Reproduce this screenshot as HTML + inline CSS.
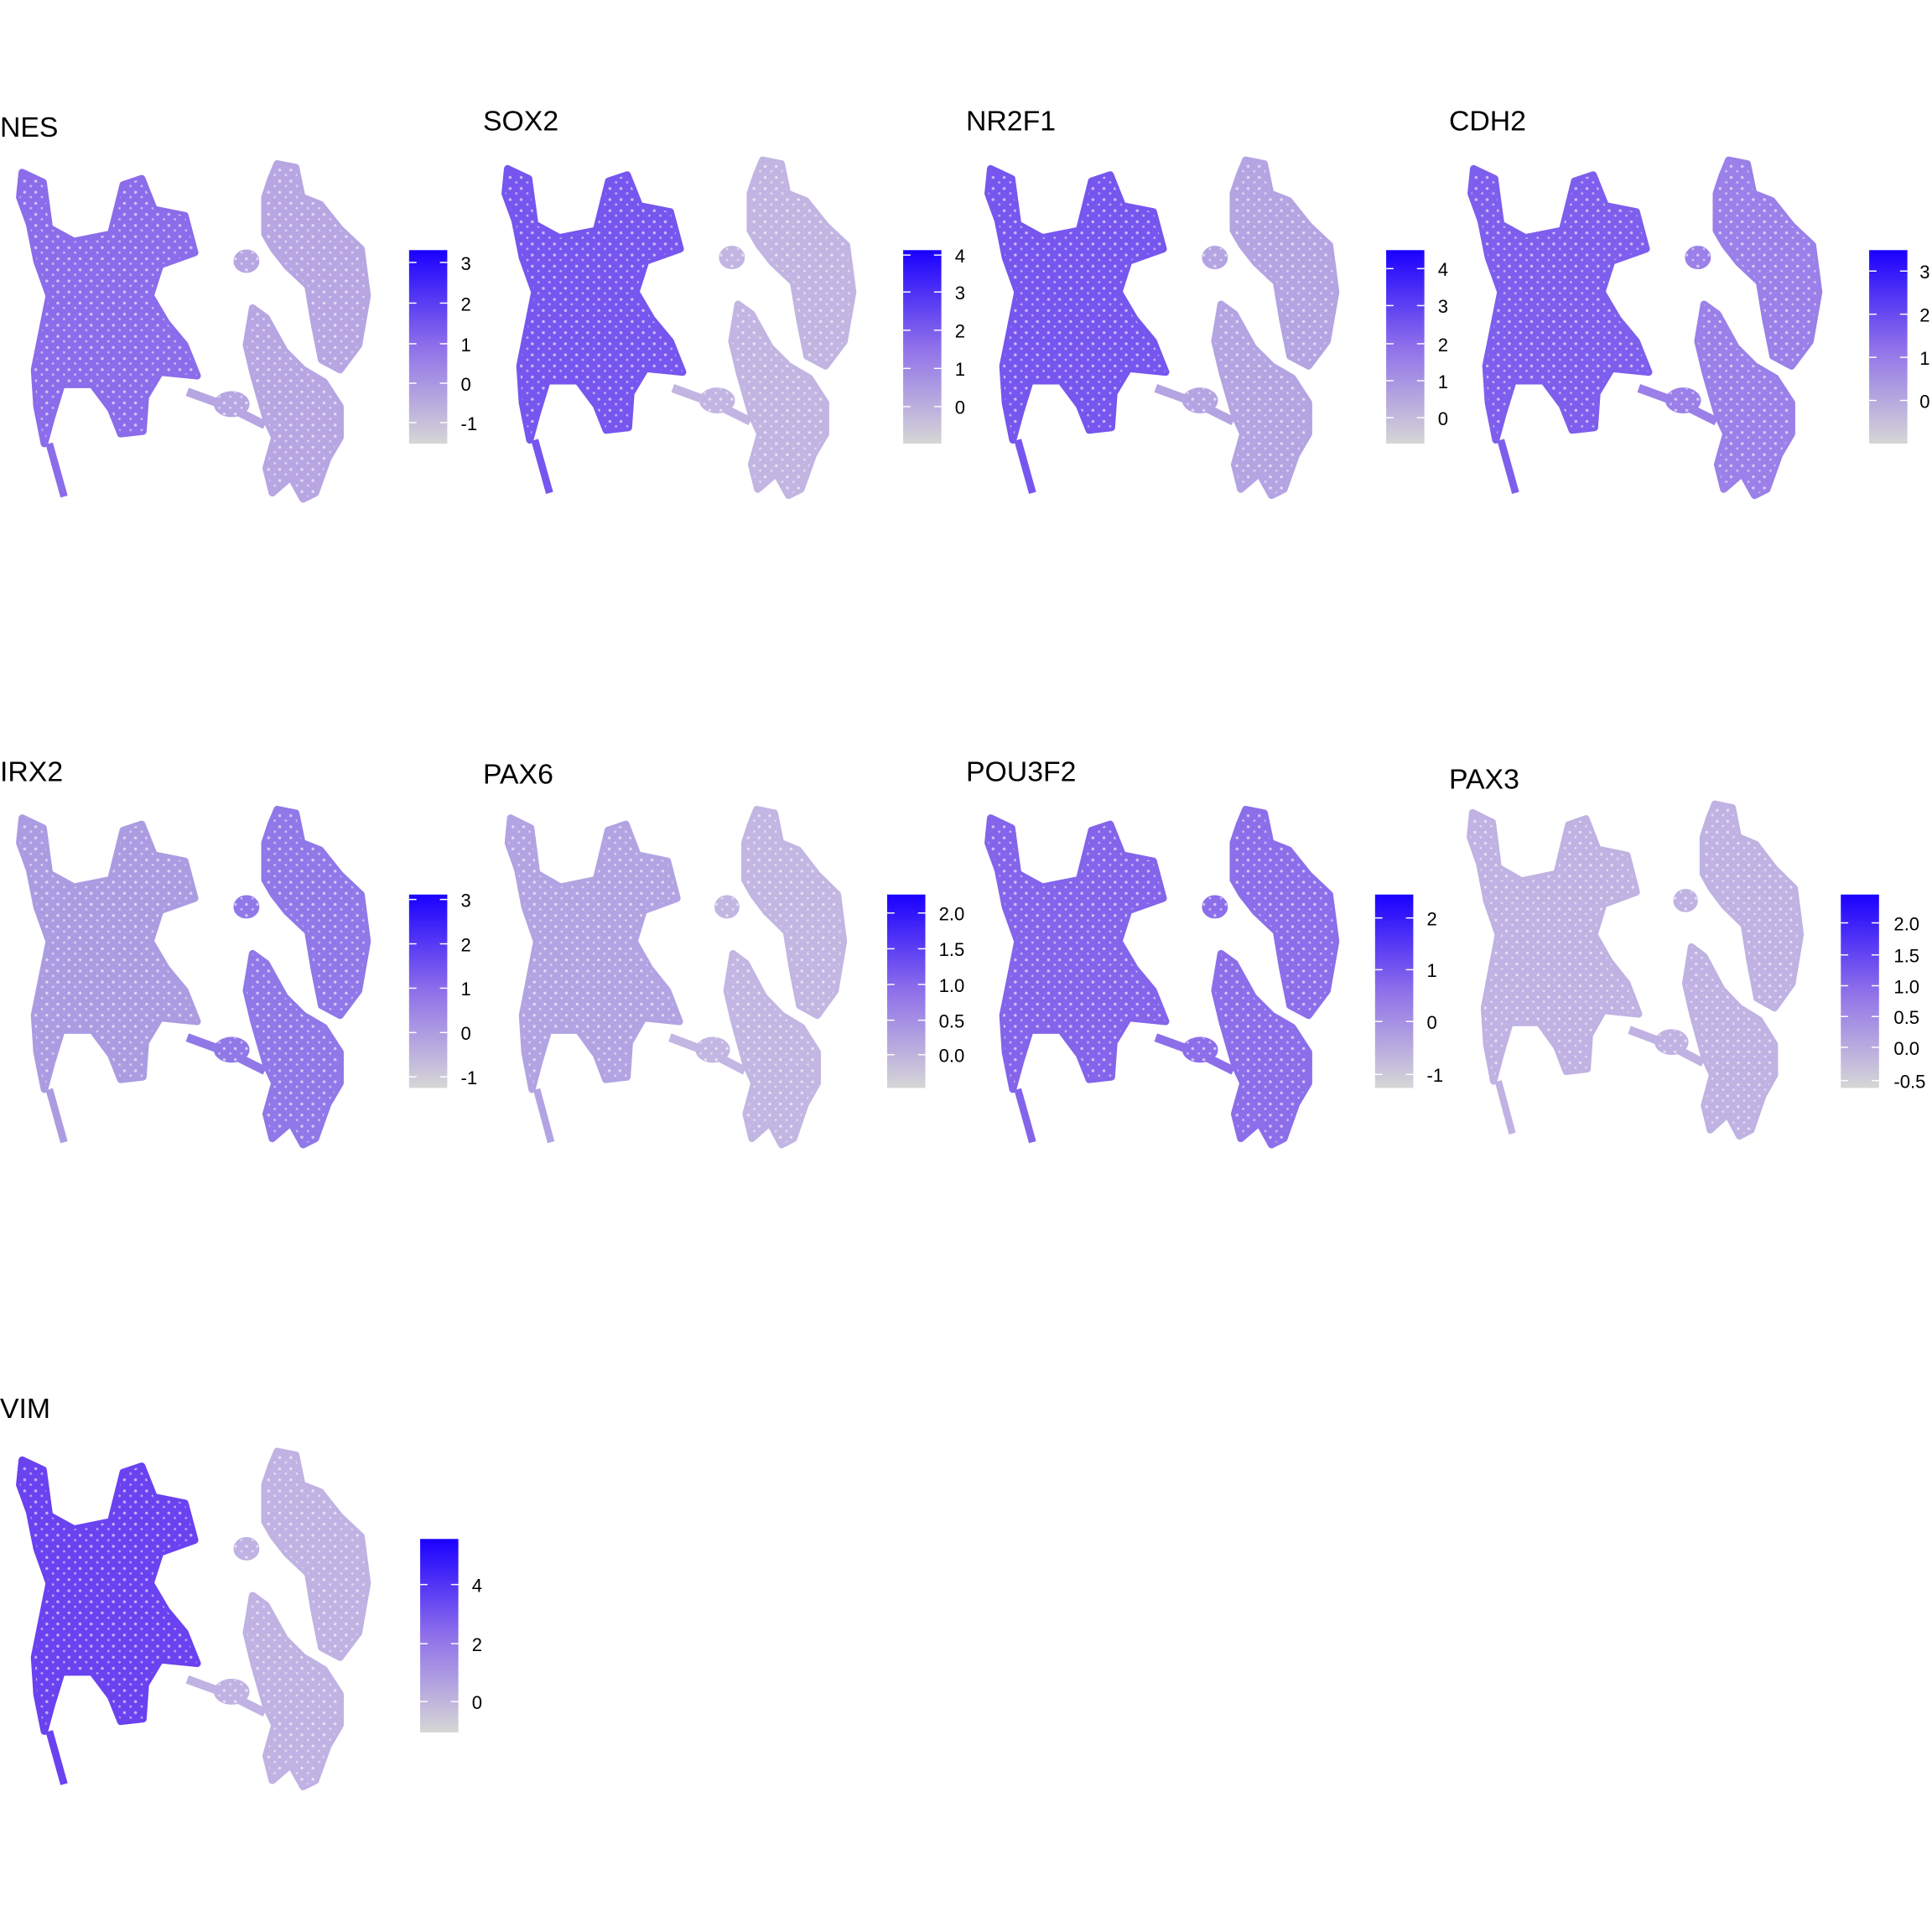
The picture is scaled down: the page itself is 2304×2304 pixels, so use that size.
<!DOCTYPE html>
<html><head><meta charset="utf-8"><style>
html,body{margin:0;padding:0;background:#fff;}
svg{display:block;}
text{font-family:"Liberation Sans",sans-serif;fill:#000;}
.t{font-size:23px;}
.l{font-size:15px;}
.tk line{stroke:#fff;stroke-width:1;}
</style></head><body>
<svg width="2304" height="2304" viewBox="0 0 1568 1568" xmlns="http://www.w3.org/2000/svg">
<defs>
<linearGradient id="g" x1="0" y1="0" x2="0" y2="1">
<stop offset="0" stop-color="#1a00ff"/>
<stop offset="0.5" stop-color="#8f70ea"/>
<stop offset="1" stop-color="#d6d6d6"/>
</linearGradient>
<pattern id="sp" width="9" height="9" patternUnits="userSpaceOnUse">
<circle cx="2" cy="3" r="1.2" fill="#fff" fill-opacity="0.6"/>
<circle cx="7" cy="7" r="1" fill="#fff" fill-opacity="0.5"/>
</pattern>
<g id="L">
<path d="M18,140 L35,148 L40,185 L60,196 L90,190 L100,150 L115,145 L125,170 L150,175 L158,205 L130,215 L122,240 L135,262 L150,280 L160,305 L130,302 L118,322 L116,350 L98,352 L90,332 L75,312 L50,312 L42,338 L36,360 L30,330 L28,300 L34,270 L40,240 L30,212 L24,182 L16,160 Z" stroke-width="6" stroke-linejoin="round"/>
<path d="M40,360 L52,403" stroke-width="6" fill="none"/>
</g>
<g id="R">
<path d="M225,133 L240,136 L245,160 L260,166 L276,186 L293,202 L298,240 L291,280 L276,300 L261,292 L255,262 L250,232 L233,216 L222,202 L215,190 L215,160 L220,145 Z" stroke-width="6" stroke-linejoin="round"/>
<ellipse cx="200" cy="212" rx="10" ry="9"/>
<path d="M205,250 L216,258 L231,285 L246,300 L263,310 L276,330 L276,355 L266,372 L256,400 L246,405 L236,387 L221,400 L216,380 L223,355 L216,340 L206,305 L200,280 Z" stroke-width="6" stroke-linejoin="round"/>
<path d="M152,318 L185,330 L215,345" stroke-width="7" fill="none"/>
<ellipse cx="188" cy="328" rx="14" ry="10"/>
</g>
<g id="A"><use href="#L"/><use href="#R"/></g>
<g id="tk5" class="tk"><line x1="0" y1="0" x2="6" y2="0"/><line x1="25" y1="0" x2="31" y2="0"/></g>
</defs>

<!-- Row 1 -->
<text class="t" x="0" y="111">NES</text>
<g transform="translate(0,0)">
<use href="#L" fill="#8b6cea" stroke="#8b6cea"/><use href="#R" fill="#b7a6e2" stroke="#b7a6e2"/><use href="#A" fill="url(#sp)" stroke="none"/>
</g>
<rect x="332" y="203" width="31" height="157" fill="url(#g)"/>
<use href="#tk5" x="332" y="213"/><use href="#tk5" x="332" y="246"/><use href="#tk5" x="332" y="279"/><use href="#tk5" x="332" y="311"/><use href="#tk5" x="332" y="343"/>
<text class="l" x="374" y="219">3</text><text class="l" x="374" y="252">2</text><text class="l" x="374" y="285">1</text><text class="l" x="374" y="317">0</text><text class="l" x="374" y="349">-1</text>

<text class="t" x="392" y="106">SOX2</text>
<g transform="translate(394,-3)">
<use href="#L" fill="#7656ee" stroke="#7656ee"/><use href="#R" fill="#c2b5e2" stroke="#c2b5e2"/><use href="#A" fill="url(#sp)" stroke="none"/>
</g>
<rect x="733" y="203" width="31" height="157" fill="url(#g)"/>
<use href="#tk5" x="733" y="207"/><use href="#tk5" x="733" y="237"/><use href="#tk5" x="733" y="268"/><use href="#tk5" x="733" y="299"/><use href="#tk5" x="733" y="330"/>
<text class="l" x="775" y="213">4</text><text class="l" x="775" y="243">3</text><text class="l" x="775" y="274">2</text><text class="l" x="775" y="305">1</text><text class="l" x="775" y="336">0</text>

<text class="t" x="784" y="106">NR2F1</text>
<g transform="translate(786,-3)">
<use href="#L" fill="#7656ee" stroke="#7656ee"/><use href="#R" fill="#b4a4e2" stroke="#b4a4e2"/><use href="#A" fill="url(#sp)" stroke="none"/>
</g>
<rect x="1125" y="203" width="31" height="157" fill="url(#g)"/>
<use href="#tk5" x="1125" y="218"/><use href="#tk5" x="1125" y="248"/><use href="#tk5" x="1125" y="279"/><use href="#tk5" x="1125" y="309"/><use href="#tk5" x="1125" y="339"/>
<text class="l" x="1167" y="224">4</text><text class="l" x="1167" y="254">3</text><text class="l" x="1167" y="285">2</text><text class="l" x="1167" y="315">1</text><text class="l" x="1167" y="345">0</text>

<text class="t" x="1176" y="106">CDH2</text>
<g transform="translate(1178,-3)">
<use href="#L" fill="#7e5eec" stroke="#7e5eec"/><use href="#R" fill="#9a80e8" stroke="#9a80e8"/><use href="#A" fill="url(#sp)" stroke="none"/>
</g>
<rect x="1517" y="203" width="31" height="157" fill="url(#g)"/>
<use href="#tk5" x="1517" y="220"/><use href="#tk5" x="1517" y="255"/><use href="#tk5" x="1517" y="290"/><use href="#tk5" x="1517" y="325"/>
<text class="l" x="1558" y="226">3</text><text class="l" x="1558" y="261">2</text><text class="l" x="1558" y="296">1</text><text class="l" x="1558" y="331">0</text>

<!-- Row 2 -->
<text class="t" x="0" y="634">IRX2</text>
<g transform="translate(0,524)">
<use href="#L" fill="#ab9ce2" stroke="#ab9ce2"/><use href="#R" fill="#9078e8" stroke="#9078e8"/><use href="#A" fill="url(#sp)" stroke="none"/>
</g>
<rect x="332" y="726" width="31" height="157" fill="url(#g)"/>
<use href="#tk5" x="332" y="730"/><use href="#tk5" x="332" y="766"/><use href="#tk5" x="332" y="802"/><use href="#tk5" x="332" y="838"/><use href="#tk5" x="332" y="874"/>
<text class="l" x="374" y="736">3</text><text class="l" x="374" y="772">2</text><text class="l" x="374" y="808">1</text><text class="l" x="374" y="844">0</text><text class="l" x="374" y="880">-1</text>

<text class="t" x="392" y="636">PAX6</text>
<g transform="translate(397,524) scale(0.965,1)">
<use href="#L" fill="#b2a4e2" stroke="#b2a4e2"/><use href="#R" fill="#c2b6e2" stroke="#c2b6e2"/><use href="#A" fill="url(#sp)" stroke="none"/>
</g>
<rect x="720" y="726" width="31" height="157" fill="url(#g)"/>
<use href="#tk5" x="720" y="741"/><use href="#tk5" x="720" y="770"/><use href="#tk5" x="720" y="799"/><use href="#tk5" x="720" y="828"/><use href="#tk5" x="720" y="856"/>
<text class="l" x="762" y="747">2.0</text><text class="l" x="762" y="776">1.5</text><text class="l" x="762" y="805">1.0</text><text class="l" x="762" y="834">0.5</text><text class="l" x="762" y="862">0.0</text>

<text class="t" x="784" y="634">POU3F2</text>
<g transform="translate(786,524)">
<use href="#L" fill="#8464ea" stroke="#8464ea"/><use href="#R" fill="#8c6eea" stroke="#8c6eea"/><use href="#A" fill="url(#sp)" stroke="none"/>
</g>
<rect x="1116" y="726" width="31" height="157" fill="url(#g)"/>
<use href="#tk5" x="1116" y="745"/><use href="#tk5" x="1116" y="787"/><use href="#tk5" x="1116" y="829"/><use href="#tk5" x="1116" y="872"/>
<text class="l" x="1158" y="751">2</text><text class="l" x="1158" y="793">1</text><text class="l" x="1158" y="835">0</text><text class="l" x="1158" y="878">-1</text>

<text class="t" x="1176" y="640">PAX3</text>
<g transform="translate(1178,521) scale(0.95,0.99)">
<use href="#L" fill="#c0b2e2" stroke="#c0b2e2"/><use href="#R" fill="#c0b2e2" stroke="#c0b2e2"/><use href="#A" fill="url(#sp)" stroke="none"/>
</g>
<rect x="1494" y="726" width="31" height="157" fill="url(#g)"/>
<use href="#tk5" x="1494" y="749"/><use href="#tk5" x="1494" y="775"/><use href="#tk5" x="1494" y="800"/><use href="#tk5" x="1494" y="825"/><use href="#tk5" x="1494" y="850"/><use href="#tk5" x="1494" y="877"/>
<text class="l" x="1537" y="755">2.0</text><text class="l" x="1537" y="781">1.5</text><text class="l" x="1537" y="806">1.0</text><text class="l" x="1537" y="831">0.5</text><text class="l" x="1537" y="856">0.0</text><text class="l" x="1537" y="883">-0.5</text>

<!-- Row 3 -->
<text class="t" x="0" y="1151">VIM</text>
<g transform="translate(0,1045)">
<use href="#L" fill="#6a42f0" stroke="#6a42f0"/><use href="#R" fill="#c0b2e2" stroke="#c0b2e2"/><use href="#A" fill="url(#sp)" stroke="none"/>
</g>
<rect x="341" y="1249" width="31" height="157" fill="url(#g)"/>
<use href="#tk5" x="341" y="1286"/><use href="#tk5" x="341" y="1334"/><use href="#tk5" x="341" y="1381"/>
<text class="l" x="383" y="1292">4</text><text class="l" x="383" y="1340">2</text><text class="l" x="383" y="1387">0</text>
</svg>
</body></html>
